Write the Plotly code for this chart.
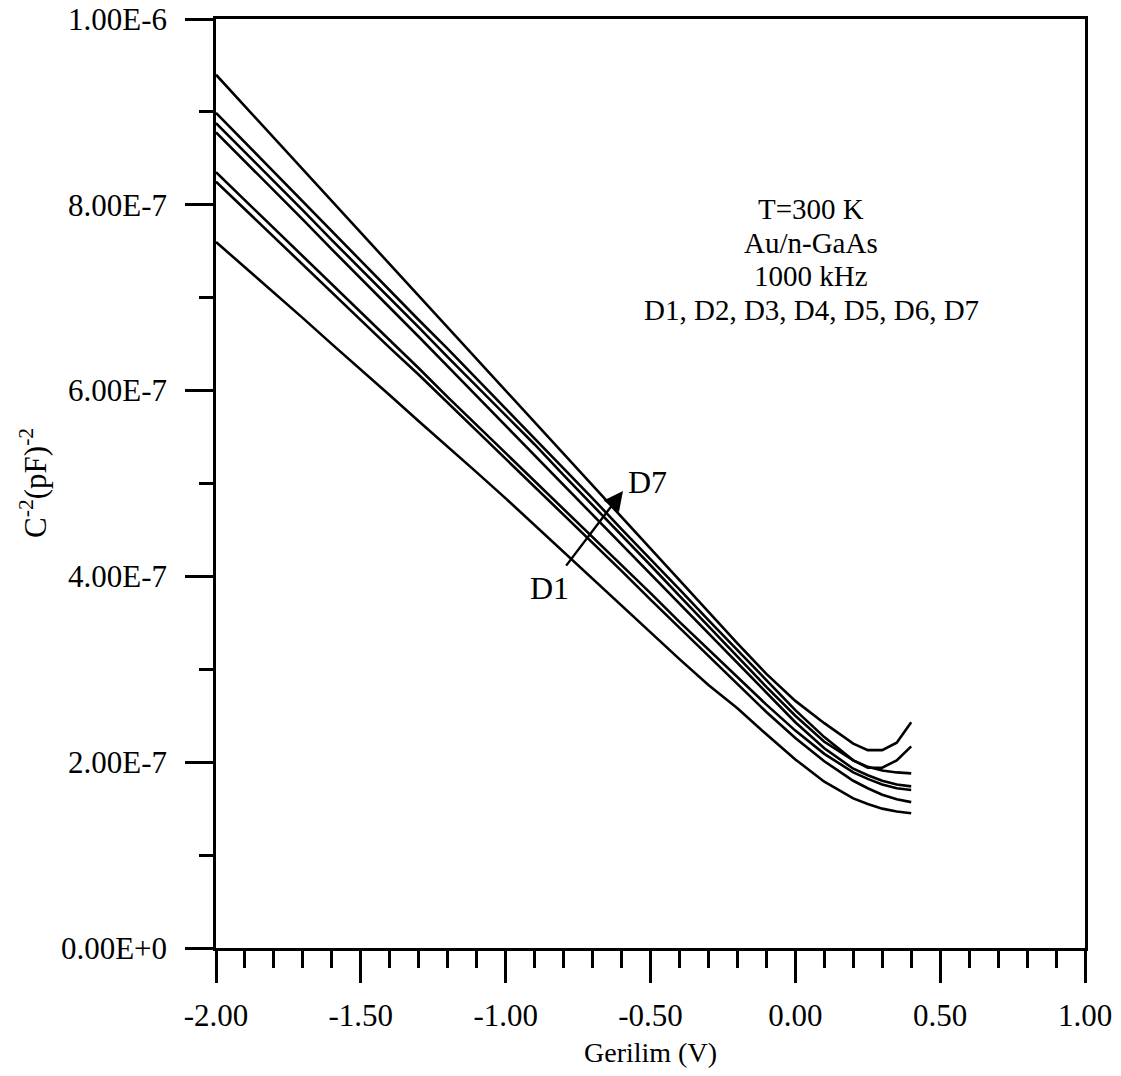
import plotly.graph_objects as go

# Bias voltage (V)
voltage = [-2.0, -1.9, -1.8, -1.7, -1.6, -1.5, -1.4, -1.3, -1.2, -1.1, -1.0,
           -0.9, -0.8, -0.7, -0.6, -0.5, -0.4, -0.3, -0.2, -0.1, 0.0,
           0.1, 0.2, 0.25, 0.3, 0.35, 0.4]

# C^-2 values in units of 1e-7 (pF)^-2
d1 = [7.60, 7.33, 7.05, 6.78, 6.50, 6.23, 5.95, 5.67, 5.40, 5.12, 4.84,
      4.55, 4.26, 3.97, 3.69, 3.40, 3.11, 2.83, 2.58, 2.30, 2.03,
      1.79, 1.61, 1.55, 1.50, 1.47, 1.45]
d2 = [8.25, 7.95, 7.65, 7.36, 7.06, 6.76, 6.46, 6.17, 5.87, 5.57, 5.27,
      4.97, 4.66, 4.36, 4.06, 3.75, 3.45, 3.14, 2.84, 2.54, 2.26,
      2.01, 1.80, 1.72, 1.65, 1.60, 1.57]
d3 = [8.35, 8.05, 7.75, 7.45, 7.14, 6.84, 6.54, 6.24, 5.93, 5.63, 5.33,
      5.03, 4.72, 4.42, 4.12, 3.82, 3.51, 3.21, 2.91, 2.62, 2.34,
      2.09, 1.89, 1.82, 1.76, 1.72, 1.70]
d4 = [8.78, 8.47, 8.15, 7.84, 7.52, 7.21, 6.89, 6.58, 6.26, 5.94, 5.63,
      5.31, 4.99, 4.67, 4.35, 4.03, 3.70, 3.38, 3.06, 2.74, 2.43,
      2.15, 1.93, 1.86, 1.80, 1.76, 1.74]
d5 = [8.88, 8.57, 8.25, 7.94, 7.62, 7.31, 6.99, 6.68, 6.36, 6.05, 5.74,
      5.42, 5.09, 4.77, 4.44, 4.12, 3.79, 3.46, 3.14, 2.81, 2.50,
      2.22, 2.02, 1.95, 1.91, 1.89, 1.88]
d6 = [8.99, 8.67, 8.35, 8.04, 7.72, 7.40, 7.08, 6.76, 6.45, 6.13, 5.81,
      5.49, 5.17, 4.84, 4.51, 4.19, 3.86, 3.53, 3.21, 2.88, 2.56,
      2.27, 2.02, 1.94, 1.94, 2.02, 2.17]
d7 = [9.40, 9.06, 8.72, 8.38, 8.04, 7.70, 7.36, 7.02, 6.68, 6.33, 5.99,
      5.65, 5.31, 4.97, 4.63, 4.30, 3.96, 3.62, 3.28, 2.95, 2.66,
      2.42, 2.20, 2.13, 2.13, 2.21, 2.43]
series = {"D1": d1, "D2": d2, "D3": d3, "D4": d4, "D5": d5, "D6": d6, "D7": d7}
scale = 1e-7

x_tickvals = [-2.0, -1.5, -1.0, -0.5, 0.0, 0.5, 1.0]
x_ticktext = ["-2.00", "-1.50", "-1.00", "-0.50", "0.00", "0.50", "1.00"]
y_tickvals = [0, 2e-7, 4e-7, 6e-7, 8e-7, 1e-6]
y_ticktext = ["0.00E+0", "2.00E-7", "4.00E-7", "6.00E-7", "8.00E-7", "1.00E-6"]

info_lines = ["T=300 K", "Au/n-GaAs", "1000 kHz", "D1, D2, D3, D4, D5, D6, D7"]
info_y = [7.96e-7, 7.59e-7, 7.23e-7, 6.87e-7]

FONT = "Liberation Serif, Times New Roman, serif"

fig = go.Figure()
for name, vals in series.items():
    fig.add_trace(go.Scatter(
        x=voltage, y=[v * scale for v in vals], mode="lines", name=name,
        line=dict(color="black", width=2.6), showlegend=False,
    ))

axis_common = dict(
    showline=True, linecolor="black", linewidth=2.5, mirror=True,
    showgrid=False, zeroline=False, ticks="outside", tickcolor="black",
    tickwidth=2.5, tickfont=dict(family=FONT, size=31, color="black"),
)

fig.update_xaxes(
    range=[-2.0, 1.0], tickmode="array", tickvals=x_tickvals, ticktext=x_ticktext,
    ticklen=32, ticklabelstandoff=6,
    minor=dict(ticks="outside", dtick=0.1, ticklen=17, tickcolor="black", tickwidth=2.5),
    **axis_common,
)
fig.update_yaxes(
    range=[0, 1e-6], tickmode="array", tickvals=y_tickvals, ticktext=y_ticktext,
    ticklen=28, ticklabelstandoff=12,
    minor=dict(ticks="outside", dtick=1e-7, ticklen=14, tickcolor="black", tickwidth=2.5),
    **axis_common,
)

annotations = []
for txt, yv in zip(info_lines, info_y):
    annotations.append(dict(text=txt, x=0.055, y=yv, xref="x", yref="y",
                            showarrow=False, xanchor="center", yanchor="middle",
                            font=dict(family=FONT, size=29, color="black")))
annotations += [
    dict(text="", x=-0.595, y=4.92e-7, ax=-0.795, ay=4.10e-7,
         xref="x", yref="y", axref="x", ayref="y", showarrow=True,
         arrowhead=2, arrowsize=1.6, arrowwidth=2.4, arrowcolor="black"),
    dict(text="D7", x=-0.51, y=5.02e-7, xref="x", yref="y", showarrow=False,
         font=dict(family=FONT, size=32, color="black")),
    dict(text="D1", x=-0.85, y=3.87e-7, xref="x", yref="y", showarrow=False,
         font=dict(family=FONT, size=32, color="black")),
    dict(text="Gerilim (V)", x=0.5, y=-0.1125, xref="paper", yref="paper",
         showarrow=False, xanchor="center", yanchor="middle",
         font=dict(family=FONT, size=28, color="black")),
    dict(text="C<sup>-2</sup>(pF)<sup>-2</sup>", x=-0.210, y=0.5, xref="paper", yref="paper",
         showarrow=False, xanchor="center", yanchor="middle", textangle=-90,
         font=dict(family=FONT, size=31, color="black")),
]

fig.update_layout(
    width=1121, height=1076,
    margin=dict(l=216, r=36, t=19, b=128, autoexpand=False),
    paper_bgcolor="white", plot_bgcolor="white",
    annotations=annotations,
)

fig.write_html("out.html")
